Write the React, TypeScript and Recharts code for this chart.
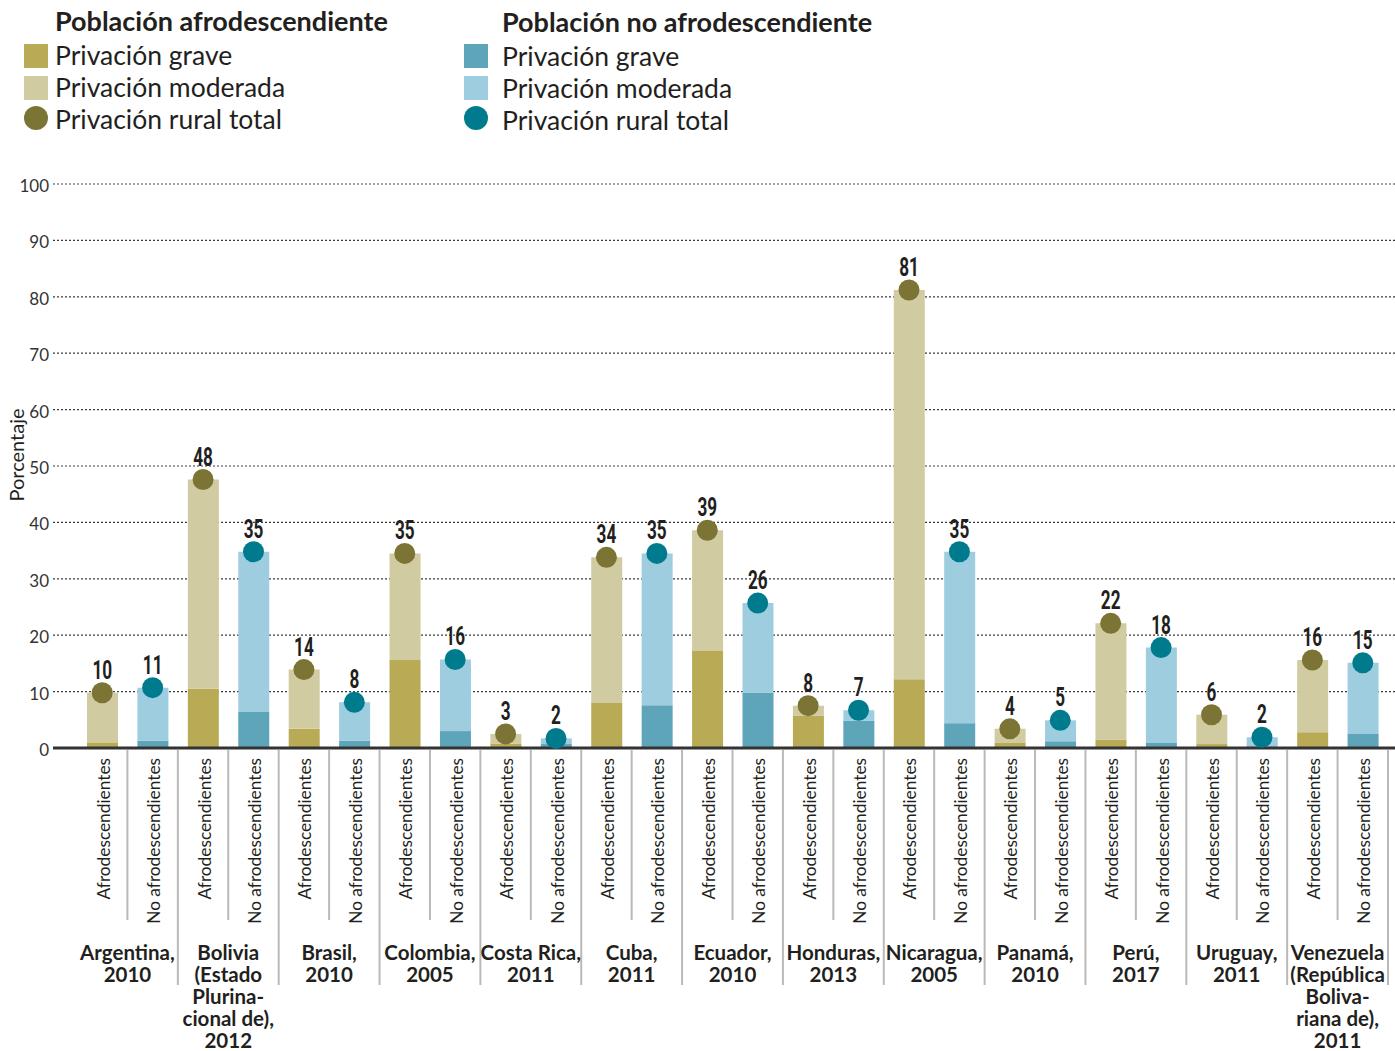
import React from 'react';
import { ComposedChart, Bar, Line, XAxis, YAxis, CartesianGrid, Cell } from 'recharts';

const countries: string[][] = [
  ['Argentina,', '2010'],
  ['Bolivia', '(Estado', 'Plurina-', 'cional de),', '2012'],
  ['Brasil,', '2010'],
  ['Colombia,', '2005'],
  ['Costa Rica,', '2011'],
  ['Cuba,', '2011'],
  ['Ecuador,', '2010'],
  ['Honduras,', '2013'],
  ['Nicaragua,', '2005'],
  ['Panamá,', '2010'],
  ['Perú,', '2017'],
  ['Uruguay,', '2011'],
  ['Venezuela', '(República', 'Boliva-', 'riana de),', '2011'],
];

const groupLabels = ['Afrodescendientes', 'No afrodescendientes'];

const afroGrave = [1.0, 10.5, 3.4, 15.6, 0.8, 8.0, 17.2, 5.7, 12.2, 0.9, 1.5, 0.7, 2.8];
const afroModerada = [8.8, 37.1, 10.5, 18.9, 1.7, 25.8, 21.4, 1.8, 69.0, 2.5, 20.6, 5.2, 12.8];
const afroTotalLabel = [10, 48, 14, 35, 3, 34, 39, 8, 81, 4, 22, 6, 16];

const noGrave = [1.3, 6.4, 1.3, 3.0, 0.7, 7.6, 9.8, 4.8, 4.4, 1.2, 0.9, 0.3, 2.5];
const noModerada = [9.4, 28.4, 6.8, 12.7, 1.0, 26.9, 15.9, 1.9, 30.4, 3.7, 16.9, 1.6, 12.6];
const noTotalLabel = [11, 35, 8, 16, 2, 35, 26, 7, 35, 5, 18, 2, 15];

const yTicks = [0, 10, 20, 30, 40, 50, 60, 70, 80, 90, 100];

const C = {
  afroGrave: '#b9aa55',
  afroMod: '#d1cba1',
  afroDot: '#7c7434',
  noGrave: '#5ea5ba',
  noMod: '#9ecde0',
  noDot: '#007b8e',
  text: '#231f20',
};

type Row = { id: string; afro: boolean; country: number; grave: number; moderada: number; total: number; label: number };

const rows: Row[] = [];
countries.forEach((_, i) => {
  rows.push({ id: String(rows.length), afro: true, country: i, grave: afroGrave[i], moderada: afroModerada[i], total: afroGrave[i] + afroModerada[i], label: afroTotalLabel[i] });
  rows.push({ id: String(rows.length), afro: false, country: i, grave: noGrave[i], moderada: noModerada[i], total: noGrave[i] + noModerada[i], label: noTotalLabel[i] });
});

const W = 1395;
const H = 1051;
const PLOT_LEFT = 53;
const PAD_L = 24;
const PAD_R = 7;
const HALF = (W - PLOT_LEFT - PAD_L - PAD_R) / rows.length / 2;

const FONT = 'Lato, "Open Sans", sans-serif';
const NUM_FONT = 'Roboto, "DejaVu Sans", sans-serif';

function CatTick(props: any) {
  const { x, y, payload } = props;
  const idx = Number(payload.value);
  const row = rows[idx];
  const sepEnd = row.afro ? 920 : 985;
  return (
    <g>
      <text
        transform={`translate(${x + 1},${y + 10}) rotate(-90)`}
        textAnchor="end"
        dominantBaseline="central"
        fontSize={17.3}
        fontFamily={FONT}
        fill={C.text}
      >
        {row.afro ? groupLabels[0] : groupLabels[1]}
      </text>
      <line x1={x + HALF} x2={x + HALF} y1={y + 2} y2={sepEnd} stroke="#b9b9b9" strokeWidth={2} />
      {!row.afro &&
        countries[row.country].map((ln, k) => (
          <text
            key={k}
            x={x - HALF}
            y={960 + k * 22}
            textAnchor="middle"
            fontSize={20.5}
            fontWeight={700}
            fontFamily={FONT}
            fill={C.text}
          >
            {ln}
          </text>
        ))}
    </g>
  );
}

function Dot(props: any) {
  const { cx, cy, payload, index } = props;
  if (cx == null || cy == null) return <g key={index} />;
  return (
    <g key={index}>
      <circle cx={cx} cy={cy} r={10.5} fill={payload.afro ? C.afroDot : C.noDot} />
      <text
        transform={`translate(${cx},${cy - 14}) scale(0.66,1)`}
        textAnchor="middle"
        fontSize={26}
        fontWeight={700}
        fontFamily={NUM_FONT}
        fill={C.text}
      >
        {payload.label}
      </text>
    </g>
  );
}

function Legend() {
  const items = (x0: number, tx: number, title: string, grave: string, mod: string, dot: string, dy: number) => (
    <g>
      <text x={tx} y={31 + dy} fontSize={27} fontWeight={700} fontFamily={FONT} fill={C.text}>{title}</text>
      <rect x={x0} y={44} width={24} height={24} fill={grave} />
      <text x={tx} y={65 + dy} fontSize={26.5} fontFamily={FONT} fill={C.text}>Privación grave</text>
      <rect x={x0} y={76} width={24} height={24} fill={mod} />
      <text x={tx} y={97 + dy} fontSize={26.5} fontFamily={FONT} fill={C.text}>Privación moderada</text>
      <circle cx={x0 + 12} cy={118} r={12} fill={dot} />
      <text x={tx} y={129 + dy} fontSize={26.5} fontFamily={FONT} fill={C.text}>Privación rural total</text>
    </g>
  );
  return (
    <svg width={W} height={H} style={{ position: 'absolute', left: 0, top: 0, pointerEvents: 'none' }}>
      {items(24, 55, 'Población afrodescendiente', C.afroGrave, C.afroMod, C.afroDot, 0)}
      {items(464, 502, 'Población no afrodescendiente', C.noGrave, C.noMod, C.noDot, 1)}
      <text
        transform="translate(24,455) rotate(-90)"
        textAnchor="middle"
        fontSize={20}
        fontFamily={FONT}
        fill={C.text}
      >
        Porcentaje
      </text>
    </svg>
  );
}

export default function App() {
  return (
    <div style={{ position: 'absolute', left: 0, top: 0, width: W, height: H, overflow: 'hidden', background: '#fff' }}>
      <ComposedChart width={W} height={H} data={rows} margin={{ top: 184, right: 0, bottom: 0, left: 0 }}>
        <CartesianGrid vertical={false} stroke="#3a3a3a" strokeDasharray="2 2" strokeWidth={1.2} />
        <XAxis
          dataKey="id"
          type="category"
          interval={0}
          height={303}
          padding={{ left: PAD_L, right: PAD_R }}
          axisLine={{ stroke: '#333', strokeWidth: 3 }}
          tickLine={false}
          tickSize={0}
          tickMargin={0}
          tick={<CatTick />}
        />
        <YAxis
          width={PLOT_LEFT}
          domain={[0, 100]}
          ticks={yTicks}
          interval={0}
          axisLine={false}
          tickLine={false}
          tickSize={0}
          tickMargin={4}
          tick={{ fontSize: 17, fill: '#333', fontFamily: FONT, dy: 2 }}
        />
        <Bar dataKey="grave" stackId="s" barSize={31} isAnimationActive={false}>
          {rows.map((r, i) => (
            <Cell key={i} fill={r.afro ? C.afroGrave : C.noGrave} />
          ))}
        </Bar>
        <Bar dataKey="moderada" stackId="s" barSize={31} isAnimationActive={false}>
          {rows.map((r, i) => (
            <Cell key={i} fill={r.afro ? C.afroMod : C.noMod} />
          ))}
        </Bar>
        <Line dataKey="total" stroke="none" isAnimationActive={false} dot={<Dot />} activeDot={false} />
      </ComposedChart>
      <Legend />
    </div>
  );
}
